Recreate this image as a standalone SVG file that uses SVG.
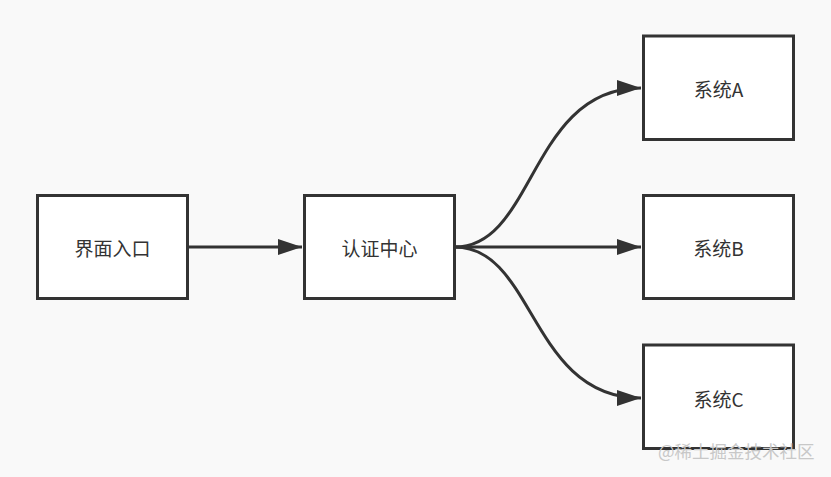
<svg xmlns="http://www.w3.org/2000/svg" width="831" height="477" viewBox="0 0 831 477">
<defs>
<style>
.box{fill:#fff;stroke:#333;stroke-width:3}
.lbl{font-family:"Microsoft YaHei","Noto Sans CJK SC",sans-serif;font-size:19px;fill:#333;text-anchor:middle;dominant-baseline:central}
.edge{fill:none;stroke:#333;stroke-width:3}
.wm{font-family:"Noto Sans CJK SC",sans-serif;font-size:17.5px;fill:#c8c8c8}
</style>
<marker id="arr" markerWidth="24" markerHeight="16" refX="24" refY="8" orient="auto" markerUnits="userSpaceOnUse">
<path d="M0,0 L24,8 L0,16 Z" fill="#333"/>
</marker>
</defs>
<rect width="831" height="477" fill="#f9f9f9"/>
<g id="edges">
<path class="edge" d="M188,247 L302,247" marker-end="url(#arr)"/>
<path class="edge" d="M455,247 L641,247" marker-end="url(#arr)"/>
<path class="edge" d="M455,247 C535,247 530,88 641,88" marker-end="url(#arr)"/>
<path class="edge" d="M455,247 C535,247 530,398 641,398" marker-end="url(#arr)"/>
</g>
<g id="n_entry"><rect class="box" x="37.5" y="195.5" width="150" height="103"/><text class="lbl" x="112.5" y="247">界面入口</text></g>
<g id="n_auth"><rect class="box" x="304.5" y="195.5" width="150" height="103"/><text class="lbl" x="379.5" y="247">认证中心</text></g>
<g id="n_a"><rect class="box" x="643.5" y="36" width="150" height="103.5"/><text class="lbl" x="718.5" y="88">系统A</text></g>
<g id="n_b"><rect class="box" x="643.5" y="195.5" width="150" height="103"/><text class="lbl" x="718.5" y="247">系统B</text></g>
<g id="n_c"><rect class="box" x="643.5" y="345" width="150" height="103.5"/><text class="lbl" x="718.5" y="398">系统C</text></g>
<text class="wm" x="658" y="458">@稀土掘金技术社区</text>
</svg>
